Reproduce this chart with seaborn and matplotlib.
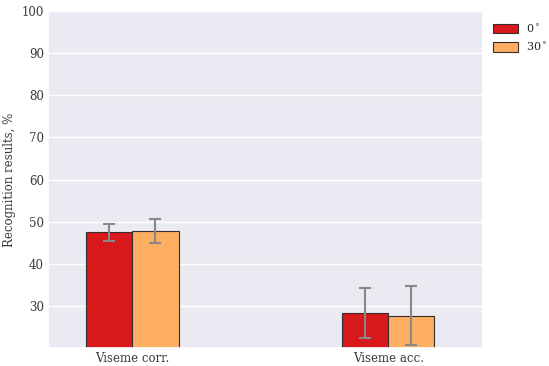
import matplotlib
matplotlib.use("Agg")
import matplotlib.pyplot as plt
import numpy as np
import pandas as pd
import seaborn as sns

categories = ["Viseme corr.", "Viseme acc."]
angles = ["0$^\\circ$", "30$^\\circ$"]
values_0 = [47.6, 28.3]
values_30 = [47.9, 27.6]
err_lo_0 = [2.1, 5.9]
err_hi_0 = [1.9, 6.0]
err_lo_30 = [2.9, 6.9]
err_hi_30 = [2.8, 7.2]
colors = ["#d7191c", "#fdae61"]

df = pd.DataFrame({
    "metric": categories * 2,
    "angle": [angles[0]] * 2 + [angles[1]] * 2,
    "value": values_0 + values_30,
})

sns.set_theme(style="darkgrid")
plt.rcParams["font.family"] = ["DejaVu Serif"]

fig = plt.figure(figsize=(5.49, 3.66), dpi=100)
ax = fig.add_axes([0.0874, 0.049, 0.7926, 0.921])

sns.barplot(data=df, x="metric", y="value", hue="angle", palette=colors,
            width=0.36, errorbar=None, edgecolor="#3a2a2a", linewidth=0.8,
            saturation=1, ax=ax)

# error bars at bar centres
lows = err_lo_0 + err_lo_30
highs = err_hi_0 + err_hi_30
vals = values_0 + values_30
for patch, v, lo, hi in zip(ax.patches[:4], vals, lows, highs):
    xc = patch.get_x() + patch.get_width() / 2
    ax.errorbar(xc, v, yerr=[[lo], [hi]], fmt="none", ecolor="#888888",
                elinewidth=1.5, capsize=4, capthick=1.5)

ax.set_xlim(-0.33, 1.37)
ax.set_ylim(20, 100)
ax.set_yticks(np.arange(30, 101, 10))
ax.set_xlabel("")
ax.set_ylabel("Recognition results, %", fontsize=8.5, color="#3a3a3a", labelpad=4)
ax.tick_params(axis="both", labelsize=8.5, colors="#3a3a3a", length=0)
ax.tick_params(axis="y", pad=3)
ax.tick_params(axis="x", pad=3)

handles, labels = ax.get_legend_handles_labels()
ax.legend(handles, labels, loc="upper left", bbox_to_anchor=(1.0, 0.995),
          frameon=False, fontsize=8, handlelength=2.2, handleheight=0.9,
          labelspacing=0.55)

fig.savefig("out.png", dpi=100)
